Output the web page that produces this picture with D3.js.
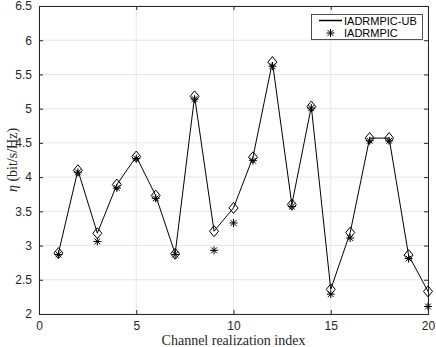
<!DOCTYPE html>
<html lang="en">
<head>
<meta charset="utf-8">
<title>IADRMPIC</title>
<script src="https://cdn.jsdelivr.net/npm/d3@7"></script>
<style>
  body { margin: 0; background: #fff; }
  .tick text { font-family: "Liberation Sans", Arial, sans-serif; font-size: 12px; fill: #262626; }
</style>
</head>
<body>
<script>
var idx = [1,2,3,4,5,6,7,8,9,10,11,12,13,14,15,16,17,18,19,20];
var ub  = [2.89,4.10,3.18,3.89,4.30,3.73,2.88,5.18,3.21,3.55,4.29,5.68,3.60,5.03,2.36,3.19,4.57,4.57,2.86,2.33];
var ic  = [2.87,4.07,3.06,3.84,4.27,3.69,2.87,5.14,2.93,3.33,4.24,5.62,3.57,5.01,2.29,3.11,4.53,4.53,2.81,2.11];
var xTicks = [0,5,10,15,20];
var yTicks = [2,2.5,3,3.5,4,4.5,5,5.5,6,6.5];
var names = ["IADRMPIC-UB","IADRMPIC"];

var W = 436, H = 347;
var m = {left: 39, right: 8, top: 6, bottom: 33};
var svg = d3.select("body").append("svg").attr("width", W).attr("height", H);

var x = d3.scaleLinear().domain([0,20]).range([m.left, W - m.right]);
var y = d3.scaleLinear().domain([2,6.5]).range([H - m.bottom, m.top]);

// grid
svg.append("g").selectAll("line").data(xTicks).enter().append("line")
  .attr("x1", d => x(d)).attr("x2", d => x(d))
  .attr("y1", y(2)).attr("y2", y(6.5))
  .attr("stroke", "#e6e6e6").attr("stroke-width", 1);
svg.append("g").selectAll("line").data(yTicks).enter().append("line")
  .attr("x1", x(0)).attr("x2", x(20))
  .attr("y1", d => y(d)).attr("y2", d => y(d))
  .attr("stroke", "#e6e6e6").attr("stroke-width", 1);

// axes
var gx = svg.append("g").attr("transform", "translate(0," + y(2) + ")")
  .call(d3.axisBottom(x).tickValues(xTicks).tickSize(-4).tickPadding(7).tickFormat(d3.format("d")));
var gy = svg.append("g").attr("transform", "translate(" + x(0) + ",0)")
  .call(d3.axisLeft(y).tickValues(yTicks).tickSize(-4).tickPadding(7).tickFormat(d => d3.format("")(d)));
var gx2 = svg.append("g").attr("transform", "translate(0," + y(6.5) + ")")
  .call(d3.axisTop(x).tickValues(xTicks).tickSize(-4).tickFormat(""));
var gy2 = svg.append("g").attr("transform", "translate(" + x(20) + ",0)")
  .call(d3.axisRight(y).tickValues(yTicks).tickSize(-4).tickFormat(""));
[gx, gy, gx2, gy2].forEach(function(g){
  g.selectAll("path, line").attr("stroke", "#262626");
});

// line
var line = d3.line().x((d,i) => x(idx[i])).y(d => y(d));
svg.append("path").datum(ub).attr("d", line)
  .attr("fill", "none").attr("stroke", "#000").attr("stroke-width", 1);

// diamonds
svg.append("g").selectAll("path").data(ub).enter().append("path")
  .attr("transform", (d,i) => "translate(" + x(idx[i]) + "," + y(d) + ")")
  .attr("d", "M0,-5.5L4.5,0L0,5.5L-4.5,0Z")
  .attr("fill", "none").attr("stroke", "#000").attr("stroke-width", 1);

// asterisks
function star(g) {
  g.append("path").attr("d", "M-4,0H4M0,-4V4M-2.9,-2.9L2.9,2.9M-2.9,2.9L2.9,-2.9")
    .attr("stroke", "#000").attr("stroke-width", 1);
}
svg.append("g").selectAll("g").data(ic).enter().append("g")
  .attr("transform", (d,i) => "translate(" + x(idx[i]) + "," + y(d) + ")")
  .each(function(){ star(d3.select(this)); });

// labels
svg.append("text").attr("x", (x(0)+x(20))/2).attr("y", 345)
  .attr("text-anchor", "middle").attr("font-family", "Liberation Serif, serif")
  .attr("font-size", 14).attr("fill", "#262626").text("Channel realization index");
var yl = svg.append("text").attr("transform", "translate(17," + (y(4.25)) + ") rotate(-90)")
  .attr("text-anchor", "middle").attr("font-family", "Liberation Serif, serif")
  .attr("font-size", 14).attr("fill", "#262626");
yl.append("tspan").attr("font-style", "italic").text("η");
yl.append("tspan").text(" (bit/s/Hz)");

// legend
var lg = svg.append("g");
lg.append("rect").attr("x", 311.5).attr("y", 14.5).attr("width", 111).attr("height", 25)
  .attr("fill", "#fff").attr("stroke", "#262626").attr("stroke-width", 0.8);
lg.append("line").attr("x1", 319).attr("x2", 342).attr("y1", 20.5).attr("y2", 20.5)
  .attr("stroke", "#000").attr("stroke-width", 1.5);
star(lg.append("g").attr("transform", "translate(330.5,33)"));
lg.selectAll("text").data(names).enter().append("text")
  .attr("x", 344).attr("y", (d,i) => 24.5 + i*12)
  .attr("font-family", "Liberation Sans, Arial, sans-serif").attr("font-size", 11)
  .attr("fill", "#000").text(d => d);
</script>
</body>
</html>
